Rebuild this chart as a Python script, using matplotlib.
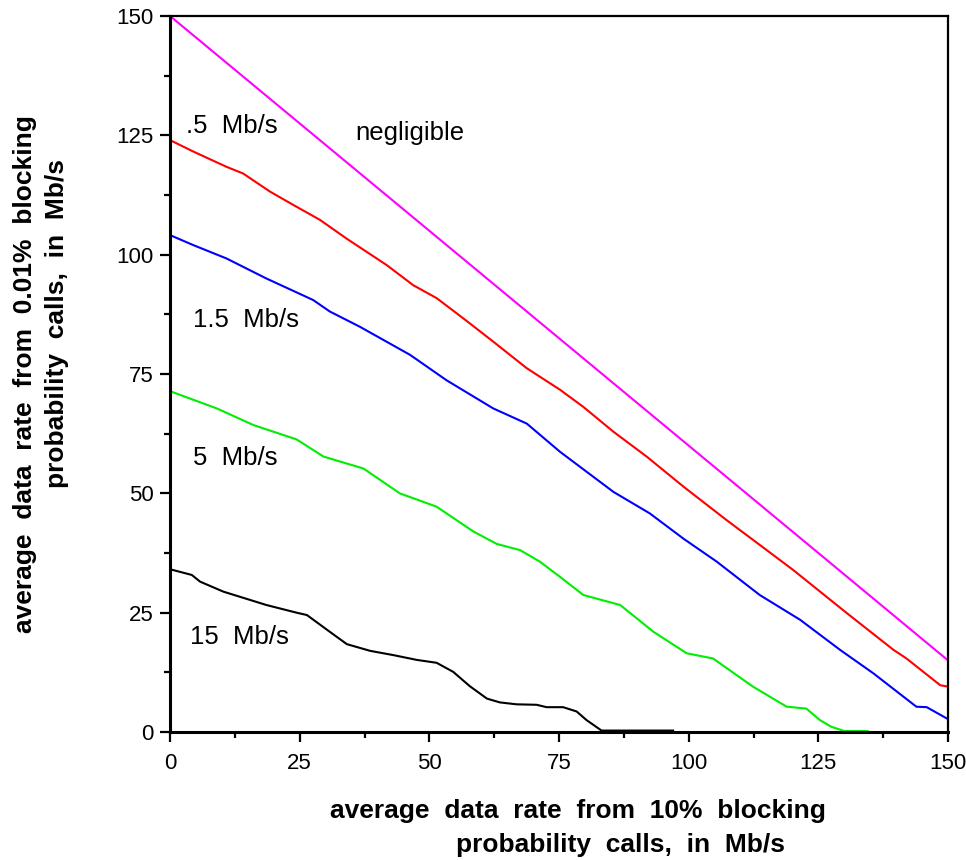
import matplotlib
matplotlib.use("Agg")
import matplotlib.pyplot as plt
from matplotlib.ticker import MultipleLocator

plt.rcParams['font.family'] = ['Liberation Sans', 'DejaVu Sans']

# ---- data ----
neg_x = [0, 150]
neg_y = [150, 15]

r05_x = [0, 4.5, 10.9, 14.1, 19.3, 23.8, 28.9, 34, 41.8, 46.9, 51.4, 56.5, 62.3,
         68.8, 75.2, 79.7, 85.5, 91.9, 99, 107.3, 113.7, 120.2, 130.5, 139.5,
         142, 148.5, 150]
r05_y = [124, 121.6, 118.4, 117, 113.2, 110.4, 107.3, 103.4, 97.8, 93.6, 90.9,
         86.7, 81.8, 76.2, 71.7, 68.1, 62.9, 57.7, 51.4, 44.4, 39.2, 33.9, 24.9,
         17.2, 15.4, 9.8, 9.5]

r15_x = [0, 4.5, 10.9, 18.6, 27.6, 30.8, 36.6, 46.3, 53.3, 62.3, 68.8, 75.2,
         85.5, 92.5, 99, 105.4, 113.7, 121.5, 129.2, 135.6, 143.9, 145.9, 150]
r15_y = [104.1, 102, 99.2, 95, 90.5, 88.1, 84.9, 79, 73.7, 67.8, 64.6, 58.7,
         50.3, 45.8, 40.5, 35.7, 28.7, 23.5, 17.2, 12.3, 5.3, 5.2, 2.7]

r5_x = [0, 9, 16.1, 24.4, 29.6, 37.3, 44.3, 51.4, 58.5, 63, 67.5, 71.3, 75.2,
        79.7, 86.8, 93.2, 99.6, 104.7, 112.4, 118.9, 122.7, 125.3, 127.5, 130,
        134.5]
r5_y = [71.4, 67.8, 64.3, 61.3, 57.7, 55.2, 50, 47.2, 42, 39.4, 38.1, 35.7, 32.5,
        28.7, 26.6, 21, 16.5, 15.4, 9.5, 5.3, 4.9, 2.5, 1.1, 0.2, 0.2]

r15m_x = [0, 4.2, 5.8, 10.3, 18.6, 24.4, 26.4, 30.8, 34.1, 38.6, 43.1, 47.6,
          51.4, 54.6, 57.8, 61.1, 63.6, 66.8, 70.7, 72.6, 75.8, 78.4, 80.3,
          83.2, 97]
r15m_y = [34.1, 32.9, 31.5, 29.4, 26.6, 25.0, 24.5, 21.0, 18.4, 17.0, 16.1, 15.1,
          14.5, 12.6, 9.6, 7.0, 6.2, 5.8, 5.7, 5.2, 5.2, 4.3, 2.5, 0.3, 0.3]

series_labels = [".5  Mb/s", "1.5  Mb/s", "5  Mb/s", "15  Mb/s", "negligible"]
x_ticks = [0, 25, 50, 75, 100, 125, 150]
y_ticks = [0, 25, 50, 75, 100, 125, 150]

# ---- figure ----
fig = plt.figure(figsize=(9.66, 8.60), dpi=100)
ax = fig.add_axes([170/966, 1-732/860, (948-170)/966, (732-16)/860])

lw = 1.5
ax.plot(neg_x, neg_y, color='#FF00FF', lw=lw)
ax.plot(r05_x, r05_y, color='#FF0000', lw=lw)
ax.plot(r15_x, r15_y, color='#0000FF', lw=lw)
ax.plot(r5_x, r5_y, color='#00EE00', lw=lw)
ax.plot(r15m_x, r15m_y, color='black', lw=lw)

ax.set_xlim(0, 150)
ax.set_ylim(0, 150)
ax.set_xticks(x_ticks)
ax.set_yticks(y_ticks)
ax.set_xticklabels([str(t) for t in x_ticks])
ax.set_yticklabels([str(t) for t in y_ticks])
ax.xaxis.set_minor_locator(MultipleLocator(12.5))
ax.yaxis.set_minor_locator(MultipleLocator(12.5))
ax.tick_params(which='major', direction='out', length=7, width=1.6,
               labelsize=16, top=False, right=False)
ax.tick_params(axis='x', which='major', pad=8)
ax.tick_params(axis='y', which='major', pad=5)
ax.tick_params(which='minor', direction='out', length=4.5, width=1.6,
               top=False, right=False)

for side in ['left', 'bottom']:
    ax.spines[side].set_linewidth(2.2)
for side in ['top', 'right']:
    ax.spines[side].set_linewidth(1.6)

fs = 18.5
ax.text(3, 127, series_labels[0], fontsize=fs, va='center', ha='left')
ax.text(4.4, 86.3, series_labels[1], fontsize=fs, va='center', ha='left')
ax.text(4.4, 57.4, series_labels[2], fontsize=fs, va='center', ha='left')
ax.text(3.9, 19.9, series_labels[3], fontsize=fs, va='center', ha='left')
ax.text(46.3, 125.5, series_labels[4], fontsize=fs, va='center', ha='center')

lfs = 19
fig.text(578/966, 1-811/860, "average  data  rate  from  10%  blocking",
         fontsize=lfs, fontweight='bold', ha='center', va='center')
fig.text(620/966, 1-845/860, "probability  calls,  in  Mb/s",
         fontsize=lfs, fontweight='bold', ha='center', va='center')
fig.text(25/966, 1-374/860, "average  data  rate  from  0.01%  blocking",
         fontsize=lfs, fontweight='bold', ha='center', va='center', rotation=90)
fig.text(57/966, 1-324/860, "probability  calls,  in  Mb/s",
         fontsize=lfs, fontweight='bold', ha='center', va='center', rotation=90)

fig.savefig("out.png", dpi=100)
